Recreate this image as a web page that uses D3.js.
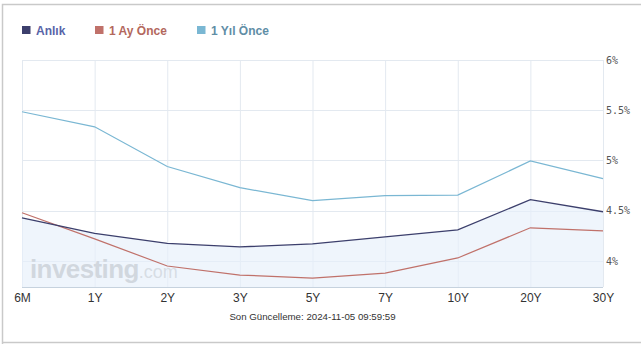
<!DOCTYPE html>
<html><head><meta charset="utf-8">
<script src="https://cdn.jsdelivr.net/npm/d3@7"></script>
<style>
html,body{margin:0;padding:0;background:#fff;}
svg{display:block;}
</style></head>
<body>
<svg id="c" width="641" height="344"></svg>
<script>
const categories = ["6M","1Y","2Y","3Y","5Y","7Y","10Y","20Y","30Y"];
const anlik   = [4.43, 4.275, 4.176, 4.14, 4.17, 4.24, 4.31, 4.61, 4.49];
const birAy   = [4.48, 4.22, 3.95, 3.86, 3.83, 3.88, 4.03, 4.33, 4.30];
const birYil  = [5.485, 5.335, 4.94, 4.73, 4.60, 4.65, 4.655, 4.995, 4.82];
const seriesNames = ["Anlık", "1 Ay Önce", "1 Yıl Önce"];
const yTicks = [4, 4.5, 5, 5.5, 6];
const yTickLabels = ["4%", "4.5%", "5%", "5.5%", "6%"];
const yDomain = [3.741, 6];
const footer = "Son Güncelleme: 2024-11-05 09:59:59";

const svg = d3.select("#c");
const L = 22, R = 603, T = 60, B = 287;

// outer frame
svg.append("path").attr("d","M2.5,344 V4.5 H641").attr("fill","none").attr("stroke","#c9c9c9").attr("stroke-width",1.5);
svg.append("line").attr("x1",2).attr("x2",641).attr("y1",342.5).attr("y2",342.5).attr("stroke","#c9c9c9").attr("stroke-width",1.5);

const x = d3.scalePoint().domain(categories).range([L, R]);
const y = d3.scaleLinear().domain(yDomain).range([B, T]);

// grid
const g = svg.append("g");
g.selectAll(".vg").data(categories).join("line")
  .attr("x1", d => x(d) + 0.5).attr("x2", d => x(d) + 0.5)
  .attr("y1", T).attr("y2", B).attr("stroke", "#e3e9f0").attr("stroke-width", 1);
g.selectAll(".hg").data(yTicks).join("line")
  .attr("x1", L).attr("x2", R).attr("y1", d => Math.round(y(d)) + 0.5).attr("y2", d => Math.round(y(d)) + 0.5)
  .attr("stroke", "#e3e9f0").attr("stroke-width", 1);

// watermark
const wm = svg.append("text").attr("x", 30).attr("y", 278).attr("font-family","Liberation Sans, Arial, sans-serif");
wm.append("tspan").text("investing").attr("font-weight","bold").attr("font-size", 26).attr("fill","#aaaaaa").attr("letter-spacing","-0.6");
wm.append("tspan").text(".com").attr("font-size", 18).attr("fill","#b9b9b9");

// area under Anlık
const idx = d3.range(categories.length);
svg.append("path")
  .attr("d", d3.area().x(i => x(categories[i])).y0(B).y1(i => y(anlik[i]))(idx))
  .attr("fill", "#e6f0fb").attr("fill-opacity", 0.65);

// bottom axis line
svg.append("line").attr("x1", L).attr("x2", R).attr("y1", B + 0.5).attr("y2", B + 0.5).attr("stroke", "#c6d2de").attr("stroke-width", 1);

const colors = ["#3c3f6c", "#c0716a", "#7ab7d3"];
const data = [anlik, birAy, birYil];
const line = d3.line().x(i => x(categories[i]));
[2,1,0].forEach(k => {
  svg.append("path")
    .attr("d", line.y(i => y(data[k][i]))(idx))
    .attr("fill", "none").attr("stroke", colors[k]).attr("stroke-width", k === 0 ? 1.3 : 1.2);
});

// x axis labels
svg.append("g").attr("transform", `translate(0,${B})`)
  .call(d3.axisBottom(x).tickSize(0).tickPadding(0))
  .call(a => a.select(".domain").remove())
  .selectAll("text")
  .attr("dy", null).attr("y", 15)
  .attr("font-family", "Liberation Sans, Arial, sans-serif").attr("font-size", 12).attr("fill", "#333");

// y axis labels (right)
svg.append("g").attr("transform", `translate(${R},0)`)
  .call(d3.axisRight(y).tickValues(yTicks).tickFormat((d, i) => yTickLabels[i]).tickSize(0).tickPadding(3))
  .call(a => a.select(".domain").remove())
  .selectAll("text")
  .attr("font-family", "DejaVu Sans Mono, monospace").attr("font-size", 10).attr("fill", "#555");

// legend
const legX = [22, 95, 197];
const legText = ["#5864a8", "#b3685d", "#5f8ea6"];
seriesNames.forEach((n, k) => {
  svg.append("rect").attr("x", legX[k]).attr("y", 26).attr("width", 8.5).attr("height", 8).attr("fill", colors[k]);
  svg.append("text").attr("x", legX[k] + 14).attr("y", 34.5).text(n)
    .attr("font-family", "Liberation Sans, Arial, sans-serif").attr("font-weight", "bold").attr("font-size", 12).attr("fill", legText[k]);
});

// footer
svg.append("text").attr("x", (L + R) / 2).attr("y", 320).attr("text-anchor", "middle")
  .attr("font-family", "Liberation Sans, Arial, sans-serif").attr("font-size", 9.7).attr("fill", "#333").text(footer);
</script>
</body></html>
